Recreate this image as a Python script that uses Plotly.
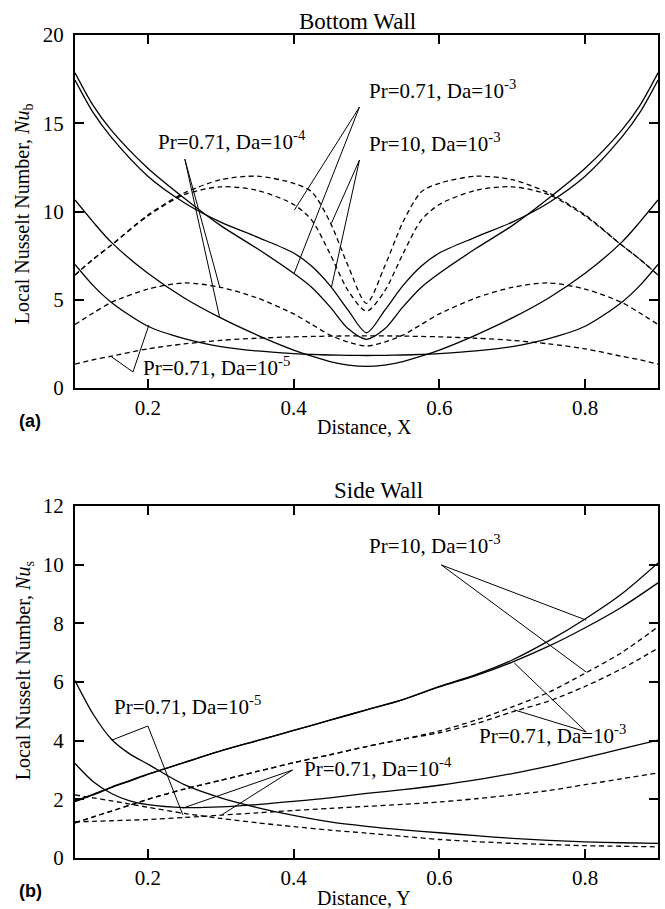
import plotly.graph_objects as go

# ---------------- DATA ----------------
# (a) Bottom wall: local Nusselt number vs distance X
X_B = [0.1, 0.125, 0.15, 0.2, 0.25, 0.3, 0.35, 0.4, 0.425, 0.45, 0.475, 0.5,
       0.525, 0.55, 0.575, 0.6, 0.65, 0.7, 0.75, 0.8, 0.85, 0.875, 0.9]
NU_B_PR10_DA3 = [17.45, 15.6, 14.2, 12.0, 10.5, 9.4, 8.55, 7.65, 6.9, 5.8, 4.4, 3.13,
                 4.4, 5.8, 6.9, 7.65, 8.55, 9.4, 10.5, 12.0, 14.2, 15.6, 17.45]
NU_B_PR071_DA3 = [17.86, 16.0, 14.6, 12.45, 10.75, 9.2, 7.9, 6.5, 5.7, 4.6, 3.35, 2.76,
                  3.35, 4.6, 5.7, 6.5, 7.9, 9.2, 10.75, 12.45, 14.6, 16.0, 17.86]
NU_B_PR10_DA3_D = [6.4, 7.3, 8.1, 9.8, 11.05, 11.8, 12.0, 11.6, 11.1, 9.4, 6.9, 4.8,
                   6.9, 9.4, 11.1, 11.6, 12.0, 11.8, 11.05, 9.8, 8.1, 7.3, 6.4]
NU_B_PR071_DA3_D = [6.4, 7.3, 8.1, 9.75, 10.95, 11.4, 11.2, 10.4, 9.5, 7.6, 5.5, 4.36,
                    5.5, 7.6, 9.5, 10.4, 11.2, 11.4, 10.95, 9.75, 8.1, 7.3, 6.4]
NU_B_PR071_DA4 = [10.65, 9.4, 8.25, 6.5, 5.1, 3.97, 3.0, 2.15, 1.8, 1.5, 1.3, 1.22,
                  1.3, 1.5, 1.8, 2.15, 3.0, 3.97, 5.1, 6.5, 8.25, 9.4, 10.65]
NU_B_PR071_DA4_D = [3.6, 4.25, 4.85, 5.6, 5.95, 5.7, 5.1, 4.2, 3.6, 3.0, 2.6, 2.38,
                    2.6, 3.0, 3.6, 4.2, 5.1, 5.7, 5.95, 5.6, 4.85, 4.25, 3.6]
NU_B_PR071_DA5 = [7.0, 5.8, 4.85, 3.5, 2.8, 2.35, 2.1, 1.95, 1.9, 1.87, 1.85, 1.84,
                  1.85, 1.87, 1.9, 1.95, 2.1, 2.35, 2.8, 3.5, 4.85, 5.8, 7.0]
NU_B_PR071_DA5_D = [1.35, 1.6, 1.8, 2.22, 2.5, 2.7, 2.82, 2.9, 2.92, 2.94, 2.95, 2.95,
                    2.95, 2.94, 2.92, 2.9, 2.82, 2.7, 2.5, 2.22, 1.8, 1.6, 1.35]

# (b) Side wall: local Nusselt number vs distance Y
Y_S = [0.1, 0.125, 0.15, 0.175, 0.2, 0.25, 0.3, 0.35, 0.4, 0.45, 0.5,
       0.55, 0.6, 0.65, 0.7, 0.75, 0.8, 0.85, 0.9]
NU_S_PR10_DA3 = [1.92, 2.15, 2.4, 2.62, 2.85, 3.25, 3.65, 4.0, 4.35, 4.7, 5.05,
                 5.4, 5.85, 6.25, 6.75, 7.4, 8.15, 9.0, 10.06]
NU_S_PR071_DA3 = [1.95, 2.17, 2.42, 2.64, 2.86, 3.26, 3.65, 4.0, 4.35, 4.7, 5.05,
                  5.4, 5.83, 6.22, 6.68, 7.22, 7.85, 8.55, 9.38]
NU_S_PR10_DA3_D = [1.2, 1.4, 1.6, 1.8, 2.0, 2.35, 2.65, 2.95, 3.25, 3.52, 3.8,
                   4.05, 4.33, 4.7, 5.15, 5.65, 6.3, 7.0, 7.88]
NU_S_PR071_DA3_D = [1.2, 1.4, 1.6, 1.8, 2.0, 2.35, 2.65, 2.95, 3.25, 3.52, 3.8,
                    4.05, 4.27, 4.58, 4.98, 5.35, 5.85, 6.45, 7.15]
NU_S_PR071_DA4 = [3.22, 2.6, 2.2, 1.95, 1.82, 1.72, 1.74, 1.82, 1.93, 2.05, 2.2,
                  2.33, 2.48, 2.66, 2.88, 3.13, 3.42, 3.72, 4.02]
NU_S_PR071_DA4_D = [1.23, 1.25, 1.27, 1.29, 1.31, 1.38, 1.46, 1.54, 1.62, 1.69, 1.76,
                    1.83, 1.91, 2.02, 2.15, 2.3, 2.5, 2.7, 2.9]
NU_S_PR071_DA5 = [6.05, 4.9, 4.05, 3.55, 3.2, 2.5, 2.05, 1.72, 1.45, 1.23, 1.08,
                  0.96, 0.86, 0.76, 0.67, 0.6, 0.55, 0.52, 0.5]
NU_S_PR071_DA5_D = [2.15, 2.05, 1.95, 1.84, 1.73, 1.52, 1.35, 1.2, 1.07, 0.95, 0.85,
                    0.74, 0.63, 0.56, 0.5, 0.46, 0.42, 0.4, 0.38]

X_TICKS = [0.2, 0.4, 0.6, 0.8]
LAB_PR071_DA3 = "Pr=0.71, Da=10<sup>-3</sup>"
LAB_PR10_DA3 = "Pr=10, Da=10<sup>-3</sup>"
LAB_PR071_DA4 = "Pr=0.71, Da=10<sup>-4</sup>"
LAB_PR071_DA5 = "Pr=0.71, Da=10<sup>-5</sup>"

# leader lines (data coordinates) for the curve labels
LEAD_A = [
    ([0.2986, 0.2507, 0.2986], [5.72, 12.97, 3.97]),
    ([0.401, 0.4904, 0.401], [10.08, 15.92, 6.52]),
    ([0.452, 0.4904, 0.452], [9.35, 12.92, 5.72]),
    ([0.150, 0.1795, 0.2014], [1.77, 0.91, 3.57]),
]
LEAD_B = [
    ([0.8014, 0.6027, 0.8014], [8.11, 9.99, 6.34]),
    ([0.7027, 0.8014, 0.7027], [6.65, 4.30, 5.05]),
    ([0.1507, 0.2, 0.248], [4.02, 4.50, 1.47]),
    ([0.248, 0.3986, 0.3014], [1.70, 3.0, 1.47]),
]

# ---------------- FIGURE ----------------
SERIF = "Liberation Serif, Times New Roman, serif"
fig = go.Figure()

DASH = "5px,3.5px"


def add_curve(x, y, dashed, xa, ya):
    fig.add_trace(go.Scatter(
        x=x, y=y, mode="lines", xaxis=xa, yaxis=ya, showlegend=False,
        line=dict(color="black", width=1.3, dash=DASH if dashed else "solid",
                  shape="spline", smoothing=0.8),
        hoverinfo="skip"))


for ys, d in [(NU_B_PR10_DA3, False), (NU_B_PR071_DA3, False),
              (NU_B_PR10_DA3_D, True), (NU_B_PR071_DA3_D, True),
              (NU_B_PR071_DA4, False), (NU_B_PR071_DA4_D, True),
              (NU_B_PR071_DA5, False), (NU_B_PR071_DA5_D, True)]:
    add_curve(X_B, ys, d, "x", "y")

for ys, d in [(NU_S_PR10_DA3, False), (NU_S_PR071_DA3, False),
              (NU_S_PR10_DA3_D, True), (NU_S_PR071_DA3_D, True),
              (NU_S_PR071_DA4, False), (NU_S_PR071_DA4_D, True),
              (NU_S_PR071_DA5, False), (NU_S_PR071_DA5_D, True)]:
    add_curve(Y_S, ys, d, "x2", "y2")

for lx, ly in LEAD_A:
    fig.add_trace(go.Scatter(x=lx, y=ly, mode="lines", xaxis="x", yaxis="y",
                             showlegend=False, hoverinfo="skip",
                             line=dict(color="black", width=1)))
for lx, ly in LEAD_B:
    fig.add_trace(go.Scatter(x=lx, y=ly, mode="lines", xaxis="x2", yaxis="y2",
                             showlegend=False, hoverinfo="skip",
                             line=dict(color="black", width=1)))

axis_common = dict(showgrid=False, zeroline=False, showline=True, linecolor="black",
                   linewidth=2, mirror="ticks", ticks="inside", ticklen=9,
                   tickwidth=2, tickcolor="black",
                   tickfont=dict(family=SERIF, size=21, color="black"))

L, R, T, B = 75, 5, 35, 51
W, H = 665, 909
PW, PH = W - L - R, H - T - B


def px(x):
    return (x - L) / PW


def py(y):
    return (H - B - y) / PH


fig.update_layout(
    width=W, height=H, margin=dict(l=L, r=R, t=T, b=B),
    paper_bgcolor="white", plot_bgcolor="white",
    font=dict(family=SERIF, color="black"),
    xaxis=dict(domain=[0, 1], range=[0.1, 0.9], anchor="y", tickvals=X_TICKS,
               ticktext=[str(v) for v in X_TICKS], **axis_common),
    yaxis=dict(domain=[py(388), 1], range=[0, 20], anchor="x", dtick=5,
               ticklabelstandoff=5, **axis_common),
    xaxis2=dict(domain=[0, 1], range=[0.1, 0.9], anchor="y2", tickvals=X_TICKS,
                ticktext=[str(v) for v in X_TICKS], **axis_common),
    yaxis2=dict(domain=[0, py(506)], range=[0, 12], anchor="x2", dtick=2,
                ticklabelstandoff=5, **axis_common),
)

ann = []


def add_text(text, x, y, xref, yref, xanchor="left", size=21, **kw):
    ann.append(dict(text=text, x=x, y=y, xref=xref, yref=yref, xanchor=xanchor,
                    yanchor="middle", showarrow=False,
                    font=dict(family=SERIF, size=size, color="black"), **kw))


# curve labels (a)
add_text(LAB_PR071_DA4, 0.315, 14.0, "x", "y", xanchor="center")
add_text(LAB_PR071_DA3, 0.5, 16.9, "x", "y")
add_text(LAB_PR10_DA3, 0.5, 13.9, "x", "y")
add_text(LAB_PR071_DA5, 0.19, 1.2, "x", "y")
# curve labels (b)
add_text(LAB_PR10_DA3, 0.501, 10.7, "x2", "y2")
add_text(LAB_PR071_DA3, 0.652, 4.2, "x2", "y2")
add_text(LAB_PR071_DA5, 0.151, 5.2, "x2", "y2")
add_text(LAB_PR071_DA4, 0.411, 3.1, "x2", "y2")

# titles
add_text("Bottom Wall", px(358), py(22), "paper", "paper", xanchor="center", size=23)
add_text("Side Wall", px(380), py(491), "paper", "paper", xanchor="center", size=23)
add_text("Distance, X", px(365), py(427), "paper", "paper", xanchor="center", size=20)
add_text("Distance, Y", px(365), py(898), "paper", "paper", xanchor="center", size=20)
add_text("Local Nusselt Number, <i>Nu</i><sub>b</sub>", px(24), py(214), "paper", "paper",
         xanchor="center", size=20, textangle=-90)
add_text("Local Nusselt Number, <i>Nu</i><sub>s</sub>", px(24), py(671), "paper", "paper",
         xanchor="center", size=20, textangle=-90)

ann.append(dict(text="<b>(a)</b>", x=px(17), y=py(421), xref="paper", yref="paper",
                xanchor="left", yanchor="middle", showarrow=False,
                font=dict(family="Liberation Sans, Arial, sans-serif", size=18, color="black")))
ann.append(dict(text="<b>(b)</b>", x=px(17), y=py(891), xref="paper", yref="paper",
                xanchor="left", yanchor="middle", showarrow=False,
                font=dict(family="Liberation Sans, Arial, sans-serif", size=18, color="black")))

fig.update_layout(annotations=ann)
fig.write_html("out.html")
